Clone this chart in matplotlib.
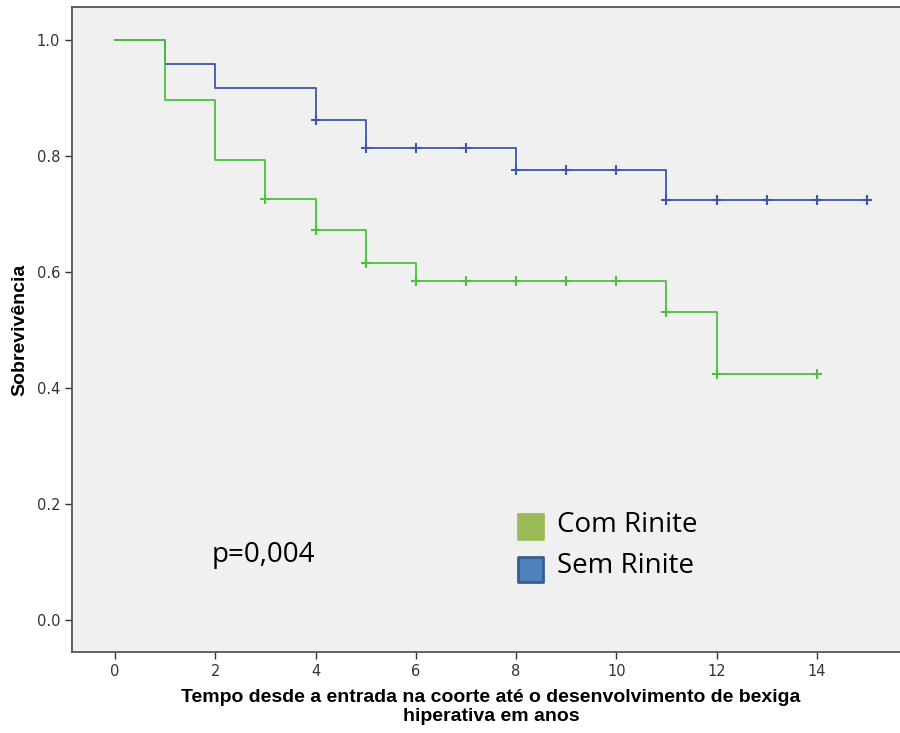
import numpy as np
import matplotlib
matplotlib.use("Agg")
import matplotlib.pyplot as plt
from matplotlib.patches import Rectangle

# Kaplan-Meier steps
com_t = [0, 1, 2, 3, 4, 5, 6, 11, 12, 14]
com_s = [1.0, 0.897, 0.793, 0.726, 0.672, 0.615, 0.584, 0.531, 0.424, 0.424]
com_cens = [3, 4, 5, 6, 7, 8, 9, 10, 11, 12, 14]

sem_t = [0, 1, 2, 4, 5, 8, 11, 15]
sem_s = [1.0, 0.959, 0.917, 0.862, 0.814, 0.776, 0.724, 0.724]
sem_cens = [4, 5, 6, 7, 8, 9, 10, 11, 12, 13, 14, 15]

xticks = [0, 2, 4, 6, 8, 10, 12, 14]
yticks = [0.0, 0.2, 0.4, 0.6, 0.8, 1.0]

legend_names = ["Com Rinite", "Sem Rinite"]
legend_fill = ["#9bbb59", "#4f81bd"]
legend_edge = ["#9bbb59", "#385d8a"]
p_text = "p=0,004"

green = "#4cc13f"
blue = "#3f55a8"


def surv_at(times, surv, t):
    # value of the step function at time t
    i = np.searchsorted(times, t, side="right") - 1
    return surv[i]


fig = plt.figure(figsize=(9, 7.33), dpi=100)
fig.patch.set_facecolor("white")
ax = fig.add_axes([0.08, 0.1105, 0.92, 0.88])
ax.set_facecolor("#f0f0f0")

ax.step(sem_t, sem_s, where="post", color=blue, lw=1.3, zorder=2)
ax.step(com_t, com_s, where="post", color=green, lw=1.3, zorder=3)

ax.plot(com_cens, [surv_at(com_t, com_s, t) for t in com_cens], ls="none",
        marker="+", ms=7.5, mew=1.5, color=green, zorder=4)
ax.plot(sem_cens, [surv_at(sem_t, sem_s, t) for t in sem_cens], ls="none",
        marker="+", ms=7.5, mew=1.5, color=blue, zorder=4)

ax.set_xlim(-0.86, 15.66)
ax.set_ylim(-0.055, 1.057)
ax.set_xticks(xticks)
ax.set_yticks(yticks)
ax.set_xticklabels([str(v) for v in xticks])
ax.set_yticklabels(["%.1f" % v for v in yticks])

narrow = ["Liberation Sans Narrow", "DejaVu Sans"]
for lab in ax.get_xticklabels() + ax.get_yticklabels():
    lab.set_family(narrow)
    lab.set_fontsize(10.5)
    lab.set_color("#333333")
ax.tick_params(direction="out", length=5, width=1, color="#333333")

ax.spines["right"].set_visible(False)
for s in ["left", "bottom", "top"]:
    ax.spines[s].set_color("#555555")
    ax.spines[s].set_linewidth(1.3)

ax.set_xlabel("Tempo desde a entrada na coorte até o desenvolvimento de bexiga\nhiperativa em anos",
              fontsize=14, fontweight="bold", family=["Liberation Sans", "DejaVu Sans"],
              linespacing=1.15)
ax.xaxis.set_label_coords(0.506, -0.058)
ax.xaxis.label.set_va("top")
ax.set_ylabel("Sobrevivência", fontsize=14, fontweight="bold",
              family=["Liberation Sans", "DejaVu Sans"])
ax.yaxis.set_label_coords(-0.053, 0.5)

# p value and legend, as pasted on the figure
ax.text(2.95, 0.112, p_text, fontsize=20, family=["Open Sans", "DejaVu Sans"],
        va="center", ha="center")

box_y = [0.175, 0.1085]
text_y = [0.197, 0.133]
for i, name in enumerate(legend_names):
    ax.add_patch(Rectangle((0.5386, box_y[i]), 0.030, 0.0388, transform=ax.transAxes,
                           facecolor=legend_fill[i], edgecolor=legend_edge[i], lw=2,
                           joinstyle="round"))
    ax.text(0.586, text_y[i], name, transform=ax.transAxes, fontsize=20,
            family=["Open Sans", "DejaVu Sans"], va="center", ha="left")

fig.savefig("out.png", dpi=100)
